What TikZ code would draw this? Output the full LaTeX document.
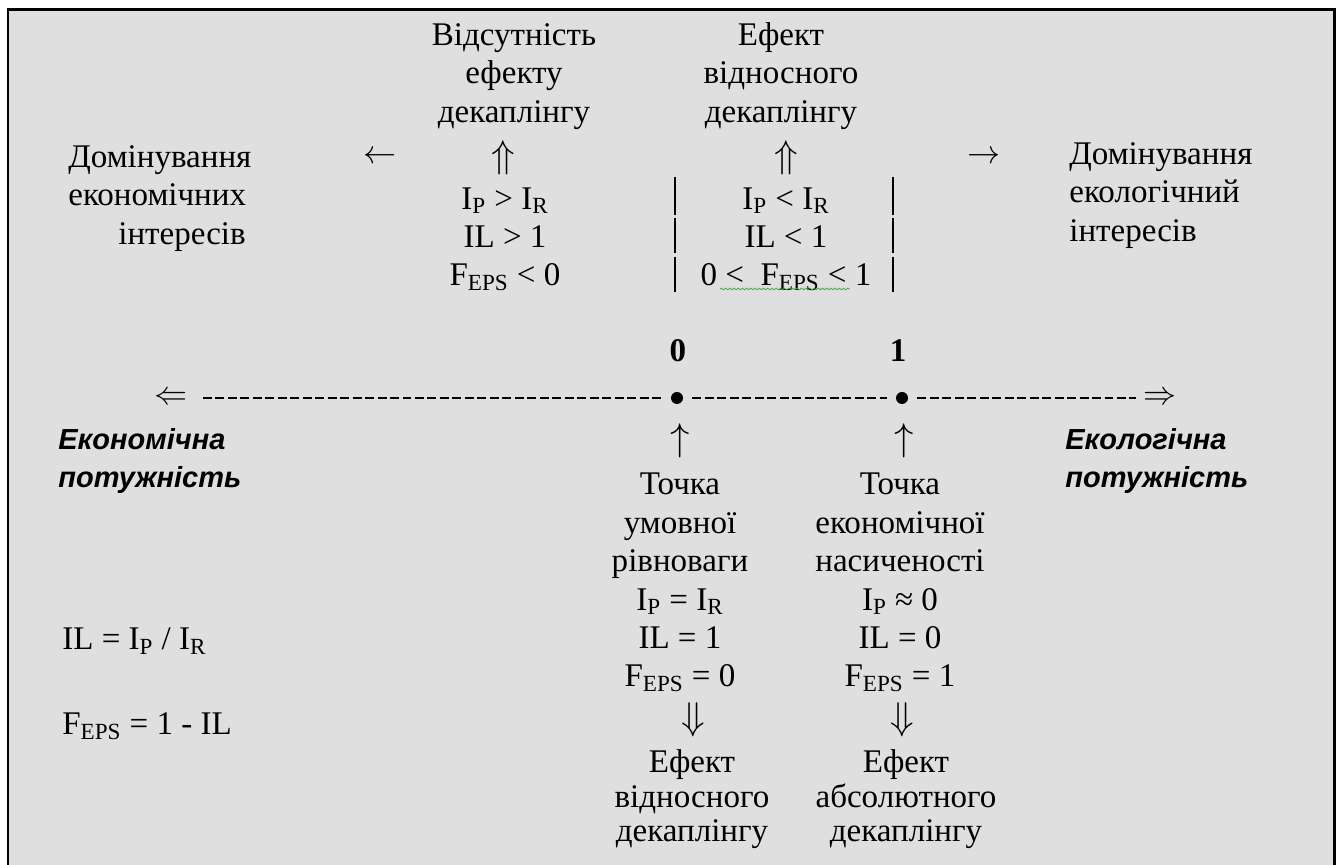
\documentclass[tikz,border=0pt]{standalone}
\usepackage{fix-cm}
\usepackage{fontspec}
\setmainfont{Liberation Serif}
\newfontfamily\axisfont{Liberation Sans}
\usepackage{tikz}
\usetikzlibrary{
    decorations.pathmorphing
}
\definecolor{panelgray}{RGB}{223,223,223}
\definecolor{spellgreen}{RGB}{60,170,60}
\newcommand{\ix}[1]{\textsubscript{#1}}

\begin{document}
\begin{tikzpicture}[
    every node/.style={inner sep=0pt, font=\fontsize{18.8}{21.9}\selectfont},
    col/.style={align=center, anchor=base},
    lcol/.style={align=left, anchor=base west},
    sym/.style={anchor=center},
    vsym/.style={anchor=center, font=\fontsize{22}{24}\selectfont},
    dot/.style={circle, fill, minimum size=0.24cm},
    axis/.style={line width=1.5pt, dash pattern=on 5.1pt off 2pt},
    power/.style={lcol, font=\axisfont\bfseries\itshape\fontsize{16.5}{21.9}\selectfont}
]
\useasboundingbox (0,0) rectangle (26.76,17.3);
\fill[white] (0,0) rectangle (26.76,17.3);
\draw[line width=1.7pt, fill=panelgray] (0.16,-0.5) rectangle (26.68,17.1);

\node[lcol] (domEc) at (1.36,12.41) {Домінування\\економічних\\\hspace*{1cm}інтересів};
\node[sym] (toEc) at (7.6,14.16) {$\leftarrow$};
\node[sym] (toEl) at (19.68,14.16) {$\rightarrow$};
\node[lcol] (domEl) at (21.38,12.47) {Домінування\\екологічний\\інтересів};

\node[col] (noEff) at (10.28,14.85) {Відсутність\\ефекту\\декаплінгу};
\node[vsym] (upNo) at (10.06,14.14) {$\Uparrow$};
\node[col] (condNo) at (10.1,11.58) {I\ix{P} > I\ix{R}\\IL > 1\\F\ix{EPS} < 0};

\node[col] (relEff) at (15.62,14.85) {Ефект\\відносного\\декаплінгу};
\node[vsym] (upRel) at (15.72,14.14) {$\Uparrow$};
\node[col] (condRel) at (15.72,11.58) {I\ix{P} < I\ix{R}\\IL < 1\\0 <\enspace F\ix{EPS} < 1};
\foreach \x in {13.5,17.86}
  \foreach \ya/\yb in {13.76/13.0, 12.94/12.24, 12.16/11.46}
    \draw[line width=1.5pt] (\x,\ya) -- (\x,\yb);
\draw[spellgreen, line width=0.4pt, decorate,
      decoration={snake, amplitude=0.5pt, segment length=2.4pt}] (14.4,11.52) -- (17.0,11.52);

\node[col, font=\bfseries\fontsize{18.8}{21.9}\selectfont] (lab0) at (13.56,10.06) {0};
\node[col, font=\bfseries\fontsize{18.8}{21.9}\selectfont] (lab1) at (17.96,10.06) {1};
\node[sym] (lend) at (3.42,9.34) {$\Leftarrow$};
\node[sym] (rend) at (23.2,9.34) {$\Rightarrow$};
\node[dot] (p0) at (13.54,9.34) {};
\node[dot] (p1) at (18.04,9.34) {};
\draw[axis, shorten <=0.3cm, shorten >=0.18cm] (lend) -- (p0);
\draw[axis, shorten <=0.18cm, shorten >=0.18cm] (p0) -- (p1);
\draw[axis, shorten <=0.18cm, shorten >=0.14cm] (p1) -- (rend);

\node[power] (ecPow) at (1.16,7.54) {Економічна\\потужність};
\node[power] (elPow) at (21.3,7.54) {Екологічна\\потужність};

\node[vsym] (upA) at (13.6,8.48) {$\uparrow$};
\node[vsym] (upB) at (18.08,8.48) {$\uparrow$};
\node[col] (eqPt) at (13.6,3.56) {Точка\\умовної\\рівноваги\\I\ix{P} = I\ix{R}\\IL = 1\\F\ix{EPS} = 0};
\node[col] (satPt) at (18.0,3.56) {Точка\\економічної\\насиченості\\I\ix{P} ≈ 0\\IL = 0\\F\ix{EPS} = 1};
\node[vsym] (dnA) at (13.86,2.9) {$\Downarrow$};
\node[vsym] (dnB) at (18.04,2.9) {$\Downarrow$};
\node[col, font=\fontsize{18.8}{19.9}\selectfont] (relDec) at (13.84,0.46) {Ефект\\відносного\\декаплінгу};
\node[col, font=\fontsize{18.8}{19.9}\selectfont] (absDec) at (18.12,0.46) {Ефект\\абсолютного\\декаплінгу};

\node[lcol] (ilDef) at (1.24,4.3) {IL = I\ix{P} / I\ix{R}};
\node[lcol] (fDef) at (1.24,2.6) {F\ix{EPS} = 1 - IL};
\end{tikzpicture}
\end{document}
